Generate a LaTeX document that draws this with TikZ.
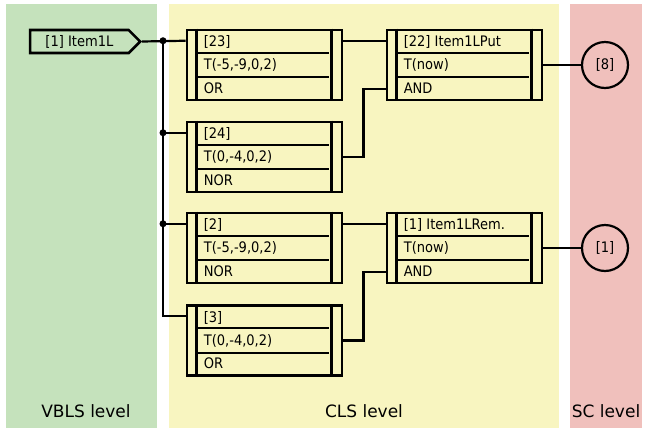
\documentclass[tikz,border=0pt]{standalone}
\usepackage{fontspec}
\setmainfont{DejaVu Sans}
\newfontfamily\gatefont{DejaVu Sans Condensed}
\usepackage{tikz}
\usetikzlibrary{
  shapes.symbols,
  calc
}
\definecolor{vbls}{RGB}{197,226,188}
\definecolor{cls}{RGB}{248,245,192}
\definecolor{sc}{RGB}{240,192,188}

\begin{document}
\begin{tikzpicture}[x=1pt, y=-1pt,
  gate/.style={draw, line width=2.8pt, fill=cls, minimum width=155pt,
               minimum height=70pt, inner sep=0pt},
  bar/.style={line width=2.6pt},
  sep/.style={line width=1.9pt},
  row/.style={anchor=base west, inner sep=0pt, font=\gatefont\fontsize{14.5}{14.5}\selectfont},
  wire/.style={line width=2.2pt},
  dot/.style={circle, fill=black, inner sep=0pt, minimum size=7pt},
  term/.style={circle, draw, line width=2.2pt, minimum size=46pt, inner sep=0pt,
               font=\gatefont\fontsize{14.5}{14.5}\selectfont},
  inport/.style={signal, signal to=east, signal pointer angle=90, draw, line width=2.6pt,
                 fill=vbls, minimum width=110pt, minimum height=23pt, inner sep=0pt,
                 font=\gatefont\fontsize{14.5}{14.5}\selectfont},
  level/.style={font=\fontsize{17}{17}\selectfont}
]
  \useasboundingbox (0,0) rectangle (646,432);

  % level bands
  \fill[vbls] (6,4)   rectangle (157,428);
  \fill[cls]  (169,4) rectangle (559,428);
  \fill[sc]   (570,4) rectangle (642,428);
  \node[level] (lvbls) at (86,411) {VBLS level};
  \node[level] (lcls)  at (364,411) {CLS level};
  \node[level] (lsc)   at (606,411) {SC level};

  % gates
  \foreach \n/\x/\y/\a/\b/\c in {
      g23/264.5/65/{[23]}/{T(-5,-9,0,2)}/OR,
      g24/264.5/157/{[24]}/{T(0,-4,0,2)}/NOR,
      g2/264.5/248/{[2]}/{T(-5,-9,0,2)}/NOR,
      g3/264.5/340.5/{[3]}/{T(0,-4,0,2)}/OR,
      g22/464.5/65/{[22] Item1LPut}/{T(now)}/AND,
      g1/464.5/248/{[1] Item1LRem.}/{T(now)}/AND}
  {
    \node[gate] (\n) at (\x,\y) {};
    \draw[bar] ([xshift=11pt]\n.north west) -- ([xshift=11pt]\n.south west)
               ([xshift=-12pt]\n.north east) -- ([xshift=-12pt]\n.south east);
    \draw[sep] ($(\n.north west)!1/3!(\n.south west)$) ++(11,0) -- ++(132,0)
               ($(\n.north west)!2/3!(\n.south west)$) ++(11,0) -- ++(132,0);
    \node[row] (\n-a) at ($(\n.north west)+(18,18)$)   {\a};
    \node[row] (\n-b) at ($(\n.north west)+(18,41.3)$) {\b};
    \node[row] (\n-c) at ($(\n.north west)+(18,64.7)$) {\c};
    \coordinate (\n-in1)  at ($(\n.north west)!1/6!(\n.south west)$);
    \coordinate (\n-in3)  at ($(\n.north west)!5/6!(\n.south west)$);
    \coordinate (\n-out1) at ($(\n.north east)!1/6!(\n.south east)$);
    \coordinate (\n-out2) at (\n.east);
  }

  % input and outputs
  \node[inport, anchor=east] (item) at (142,41.5) {[1] Item1L};
  \node[term] (c8) at (605,65)  {[8]};
  \node[term] (c1) at (605,248) {[1]};

  % bus
  \coordinate (bus) at (163,0);
  \draw[wire] (item.east) -- (g23-in1);
  \draw[wire] (bus |- g23-in1) -- (bus |- g3-in1) -- (g3-in1);
  \draw[wire] (bus |- g24-in1) -- (g24-in1);
  \draw[wire] (bus |- g2-in1) -- (g2-in1);
  \node[dot] (d1) at (bus |- g23-in1) {};
  \node[dot] (d2) at (bus |- g24-in1) {};
  \node[dot] (d3) at (bus |- g2-in1) {};

  % between gates
  \draw[wire] (g23-out1) -- (g22-in1);
  \draw[wire] (g24-out2) -- ++(20,0) |- (g22-in3);
  \draw[wire] (g2-out1) -- (g1-in1);
  \draw[wire] (g3-out2) -- ++(20,0) |- (g1-in3);
  \draw[wire] (g22-out2) -- (c8);
  \draw[wire] (g1-out2) -- (c1);
\end{tikzpicture}
\end{document}
